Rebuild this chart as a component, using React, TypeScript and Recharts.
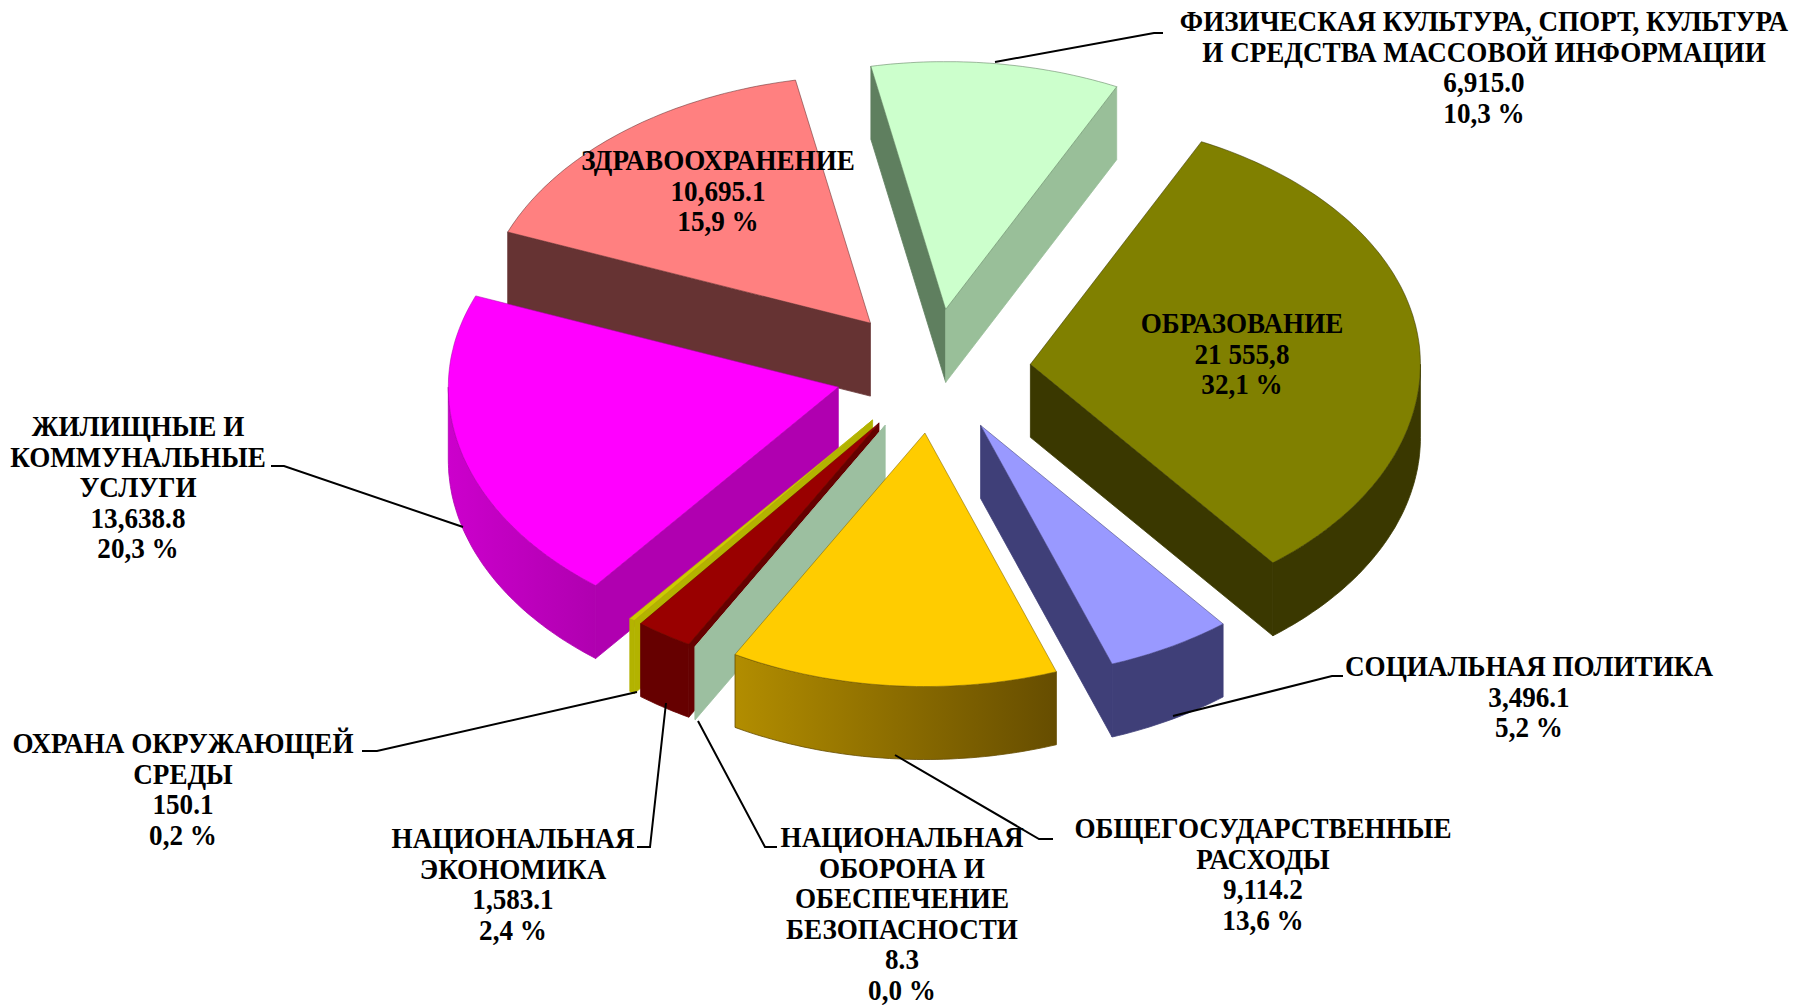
import { PieChart, Pie } from 'recharts'

// Exploded 3D pie, budget spending by section
const categories = [
  ['ОБРАЗОВАНИЕ'],
  ['СОЦИАЛЬНАЯ ПОЛИТИКА'],
  ['ОБЩЕГОСУДАРСТВЕННЫЕ', 'РАСХОДЫ'],
  ['НАЦИОНАЛЬНАЯ', 'ОБОРОНА И', 'ОБЕСПЕЧЕНИЕ', 'БЕЗОПАСНОСТИ'],
  ['НАЦИОНАЛЬНАЯ', 'ЭКОНОМИКА'],
  ['ОХРАНА ОКРУЖАЮЩЕЙ', 'СРЕДЫ'],
  ['ЖИЛИЩНЫЕ И', 'КОММУНАЛЬНЫЕ', 'УСЛУГИ'],
  ['ЗДРАВООХРАНЕНИЕ'],
  ['ФИЗИЧЕСКАЯ КУЛЬТУРА, СПОРТ, КУЛЬТУРА', 'И СРЕДСТВА МАССОВОЙ ИНФОРМАЦИИ'],
]
const values = [21555.8, 3496.1, 9114.2, 8.3, 1583.1, 150.1, 13638.8, 10695.1, 6915.0]
const valueLabels = ['21 555,8', '3,496.1', '9,114.2', '8.3', '1,583.1', '150.1', '13,638.8', '10,695.1', '6,915.0']
const percentLabels = ['32,1 %', '5,2 %', '13,6 %', '0,0 %', '2,4 %', '0,2 %', '20,3 %', '15,9 %', '10,3 %']

// Face colours per slice
const topColors = ['#808000', '#9999ff', '#ffcc00', '#ccffcc', '#990000', '#cccc00', '#ff00ff', '#ff8080', '#ccffcc']
const startFaceColors = ['#3a3800', '#3f3f78', '#806600', '#9cbfa0', '#660000', '#b3b300', '#b000b0', '#663333', '#5f7f5f']
const endFaceColors = ['#3a3800', '#3f3f78', '#806600', '#9cbfa0', '#660000', '#b3b300', '#b000b0', '#663333', '#99bf99']
const outerLeftColors = ['#3a3800', '#3f3f78', '#b28d00', '#9cbfa0', '#660000', '#b3b300', '#cc00cc', '#663333', '#99bf99']
const outerRightColors = ['#3a3800', '#3f3f78', '#664d00', '#9cbfa0', '#660000', '#b3b300', '#b000b0', '#663333', '#99bf99']

// Label anchors: centre x, baseline of first line
const labelX = [1242, 1529, 1263, 902, 513, 183, 138, 718, 1484]
const labelY = [333, 676, 838, 847, 848, 753, 436, 170, 31]
// Leader lines: slice point, elbow, end at the text
const leaders: (number[][] | null)[] = [
  null,
  [[1173, 716], [1332, 676], [1343, 676]],
  [[895, 755], [1039, 839], [1053, 839]],
  [[698, 721], [765, 847], [777, 847]],
  [[666, 703], [650, 847], [637, 847]],
  [[637, 692], [377, 751], [362, 751]],
  [[463, 527], [284, 466], [271, 466]],
  null,
  [[995, 62], [1154, 33], [1163, 33]],
]

const SQUASH = 0.635
const SQUASH_FRONT = 0.65 // perspective, the near half looks a bit deeper
const DEPTH = 73
const EXPLODE = 98
const LINE_STEP = 30.5

// reversed so the slices paint back to front, going counter-clockwise
const chartData = values.map((value, i) => ({ name: categories[i].join(' '), value, sliceIndex: i })).reverse()

const rad = (deg: number) => (deg * Math.PI) / 180

function Slice3D(props: any) {
  const { cx, cy, outerRadius, sliceIndex } = props
  // back to clockwise angles, the first slice starts at 64 degrees
  const startAngle = props.endAngle - 360
  const endAngle = props.startAngle - 360
  const mid = (startAngle + endAngle) / 2
  const ox = cx + EXPLODE * Math.cos(rad(mid))
  const oy = cy - EXPLODE * SQUASH * Math.sin(rad(mid))
  const pt = (deg: number, drop = 0) => {
    const sin = Math.sin(rad(deg))
    return [
      ox + outerRadius * Math.cos(rad(deg)),
      oy - outerRadius * (sin < 0 ? SQUASH_FRONT : SQUASH) * sin + drop,
    ]
  }
  const arc = (from: number, to: number, drop = 0) => {
    const steps = Math.max(1, Math.ceil(Math.abs(from - to)))
    const pts = []
    for (let s = 0; s <= steps; s++) pts.push(pt(from + ((to - from) * s) / steps, drop))
    return pts
  }
  const toPath = (pts: number[][]) => 'M' + pts.map((p) => p.map((n) => n.toFixed(1)).join(',')).join('L') + 'Z'

  // only faces turned to the viewer get drawn
  const showStart = Math.cos(rad(startAngle)) < 0
  const showEnd = Math.cos(rad(endAngle)) > 0
  const frontFrom = Math.min(startAngle, 0)
  const frontTo = Math.max(endAngle, -180)
  const gradId = `outer-${sliceIndex}`

  const radial = (deg: number) =>
    toPath([[ox, oy], pt(deg), pt(deg, DEPTH), [ox, oy + DEPTH]])

  return (
    <g>
      <defs>
        <linearGradient id={gradId} x1="0" y1="0" x2="1" y2="0">
          <stop offset="0%" stopColor={outerLeftColors[sliceIndex]} />
          <stop offset="100%" stopColor={outerRightColors[sliceIndex]} />
        </linearGradient>
      </defs>
      {showStart && (
        <path d={radial(startAngle)} fill={startFaceColors[sliceIndex]} stroke={startFaceColors[sliceIndex]} strokeWidth={0.8} />
      )}
      {showEnd && (
        <path d={radial(endAngle)} fill={endFaceColors[sliceIndex]} stroke={endFaceColors[sliceIndex]} strokeWidth={0.8} />
      )}
      {frontFrom > frontTo && (
        <path
          d={toPath([...arc(frontFrom, frontTo), ...arc(frontTo, frontFrom, DEPTH)])}
          fill={`url(#${gradId})`}
          stroke={outerRightColors[sliceIndex]}
          strokeWidth={0.8}
        />
      )}
      <path
        d={toPath([[ox, oy], ...arc(startAngle, endAngle)])}
        fill={topColors[sliceIndex]}
        stroke={startFaceColors[sliceIndex]}
        strokeWidth={0.8}
        strokeOpacity={0.7}
      />
    </g>
  )
}

function renderLabel(props: any) {
  const i = props.sliceIndex
  const lines = [...categories[i], valueLabels[i], percentLabels[i]]
  const leader = leaders[i]
  return (
    <g key={i}>
      {leader && (
        <polyline points={leader.map((p) => p.join(',')).join(' ')} fill="none" stroke="#000" strokeWidth={2} />
      )}
      {lines.map((line, n) => (
        <text
          key={n}
          transform={`translate(${labelX[i]},${labelY[i] + n * LINE_STEP}) scale(0.935,1)`}
          textAnchor="middle"
          fontFamily="'Liberation Serif', serif"
          fontWeight="bold"
          fontSize={29}
          fill="#000"
        >
          {line}
        </text>
      ))}
    </g>
  )
}

export default function App() {
  return (
    <div style={{ position: 'fixed', left: 0, top: 0, width: 1800, height: 1006, background: '#fff' }}>
      <PieChart width={1800} height={1006} margin={{ top: 0, right: 0, bottom: 0, left: 0 }}>
        <Pie
          data={chartData}
          dataKey="value"
          nameKey="name"
          cx={933}
          cy={371}
          innerRadius={0}
          outerRadius={390}
          startAngle={64}
          endAngle={424}
          paddingAngle={0}
          stroke="none"
          shape={Slice3D}
          label={renderLabel}
          labelLine={false}
          isAnimationActive={false}
        />
      </PieChart>
    </div>
  )
}
